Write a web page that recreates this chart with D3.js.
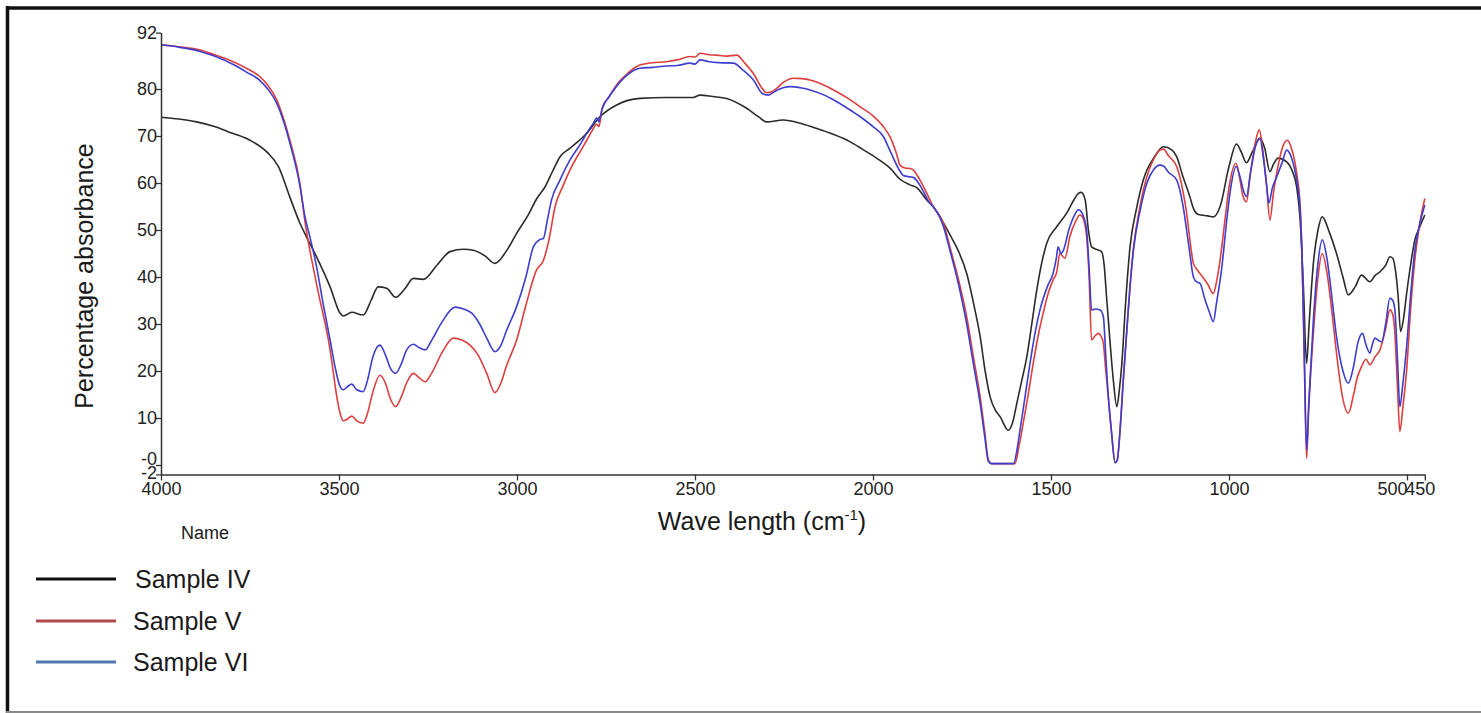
<!DOCTYPE html>
<html>
<head>
<meta charset="utf-8">
<script src="https://cdn.jsdelivr.net/npm/d3@7/dist/d3.min.js"></script>
<style>
  html, body { margin: 0; padding: 0; background: #fff; }
  svg { display: block; font-family: "Liberation Sans", Arial, sans-serif; }
</style>
</head>
<body>
<svg id="chart" width="1481" height="713"></svg>
<script>
// ---------------- DATA ----------------
const xTicks = [4000, 3500, 3000, 2500, 2000, 1500, 1000, 500, 450];
const yTicks = [92, 80, 70, 60, 50, 40, 30, 20, 10, 0, -2];
const seriesNames = ["Sample IV", "Sample V", "Sample VI"];

const waveIV = [4000,3950,3900,3850,3800,3750,3700,3670,3638,3610,3591,3563,3525,3497,3488,3464,3432,3410,3390,3366,3341,3315,3291,3263,3225,3188,3150,3123,3090,3062,3030,3001,2970,2945,2921,2900,2879,2851,2804,2767,2720,2655,2580,2505,2486,2450,2411,2355,2320,2299,2252,2200,2158,2110,2065,2030,1990,1950,1924,1896,1877,1849,1831,1802,1784,1760,1737,1715,1699,1685,1671,1655,1643,1620,1608,1596,1582,1568,1554,1540,1526,1512,1484,1456,1435,1423,1415,1404,1395,1386,1370,1358,1350,1344,1335,1325,1315,1308,1301,1290,1278,1260,1241,1210,1184,1160,1147,1130,1110,1100,1086,1060,1044,1025,1000,979,965,951,935,913,900,885,875,862,838,822,810,800,791,782,775,763,750,738,718,698,680,665,645,628,604,590,576,560,548,540,534,525,518,510,501,490,478,465,450];
const absIV  = [74.0,73.6,73.0,72.0,70.6,69.1,66.4,63.5,57.0,51.5,48.5,44.3,37.9,32.3,31.7,32.5,31.9,35.0,37.9,37.6,35.7,37.5,39.7,39.5,42.5,45.4,45.9,45.7,44.5,42.9,45.5,49.3,53.0,56.6,59.2,62.5,65.6,67.4,70.6,74.1,76.6,78.0,78.2,78.2,78.7,78.4,78.0,75.9,74.0,73.0,73.4,72.6,71.6,70.3,68.8,67.2,65.3,63.0,60.8,59.6,59.0,56.4,55.0,51.5,49.0,45.5,40.8,33.5,27.3,20.0,14.5,11.5,10.3,7.4,9.0,13.1,18.0,23.0,30.0,37.2,43.0,47.2,50.7,53.6,56.5,57.8,58.0,56.4,50.0,46.4,45.8,45.4,42.0,35.8,27.0,18.1,12.4,16.0,21.6,35.0,46.4,54.5,60.6,65.5,67.7,67.0,65.6,61.5,57.1,54.6,53.3,53.0,52.8,55.0,63.5,68.3,66.5,64.3,66.5,69.5,67.5,62.4,64.0,65.3,64.5,62.5,59.2,52.0,37.9,21.6,30.0,42.9,50.0,52.8,49.5,45.0,40.0,36.2,38.0,40.4,39.0,40.3,41.1,42.5,44.3,44.0,42.2,36.0,28.4,31.0,36.5,42.5,47.9,50.5,53.2];

const waveV = [4000,3950,3890,3850,3797,3760,3722,3700,3675,3655,3638,3610,3596,3563,3525,3505,3497,3488,3476,3464,3450,3432,3420,3405,3385,3370,3355,3341,3325,3310,3291,3275,3258,3240,3210,3179,3155,3132,3110,3085,3062,3045,3030,3001,2975,2945,2926,2910,2893,2870,2851,2820,2804,2790,2776,2770,2760,2740,2720,2690,2655,2620,2580,2550,2514,2500,2486,2460,2440,2410,2383,2360,2336,2310,2299,2285,2271,2250,2224,2200,2177,2140,2111,2070,2036,2000,1971,1950,1935,1924,1910,1896,1887,1868,1840,1831,1802,1784,1760,1737,1718,1699,1686,1676,1667,1640,1620,1601,1590,1578,1564,1550,1536,1522,1508,1494,1484,1475,1461,1447,1430,1419,1410,1400,1393,1386,1376,1367,1360,1353,1346,1339,1330,1320,1314,1306,1297,1287,1278,1268,1250,1231,1212,1194,1184,1170,1147,1130,1119,1110,1100,1090,1082,1060,1044,1035,1025,1010,1000,980,970,960,951,940,925,915,905,895,885,875,866,850,836,825,810,800,795,788,782,776,763,750,738,725,710,698,680,665,650,640,628,615,604,590,576,560,548,540,534,527,520,512,501,490,478,465,450];
const absV  = [89.4,89.0,88.3,87.3,85.8,84.4,82.6,80.8,77.7,73.5,69.1,60.0,52.0,38.5,24.5,14.0,11.0,9.4,9.8,10.4,9.4,8.9,11.0,15.5,19.1,17.5,14.0,12.4,14.5,17.5,19.5,18.6,17.7,19.5,24.0,27.0,26.6,25.5,23.5,19.5,15.4,17.5,21.0,26.6,34.0,41.5,43.5,48.0,55.0,59.5,62.8,67.0,69.1,71.0,72.5,72.0,76.0,78.5,80.9,83.3,85.1,85.6,85.8,86.2,86.9,86.8,87.6,87.3,87.2,87.0,87.2,85.5,83.3,80.0,79.2,79.4,80.1,81.5,82.3,82.2,81.9,80.9,79.8,78.0,76.2,74.3,72.0,69.5,66.5,63.8,63.2,63.1,62.8,60.6,56.4,55.0,51.4,46.4,39.5,31.6,23.0,14.5,7.0,1.1,0.3,0.3,0.3,0.3,4.0,8.9,15.0,21.6,27.5,32.3,36.5,39.4,41.0,45.0,44.0,48.6,52.0,53.2,52.5,48.6,40.0,26.6,27.5,28.0,27.5,25.9,20.0,14.5,7.0,0.5,1.0,7.4,18.0,28.7,38.0,46.4,55.0,61.3,65.0,67.0,67.2,65.8,63.5,58.5,53.6,48.0,42.9,41.6,40.8,38.5,36.5,39.0,43.6,53.0,59.0,64.2,61.0,57.0,56.0,62.0,69.0,71.3,67.0,60.0,52.1,58.0,62.1,67.5,69.1,67.5,62.1,55.0,45.0,20.0,1.4,12.0,28.0,40.0,45.0,41.0,32.0,23.8,14.0,11.0,15.0,18.5,20.9,22.5,21.3,23.0,24.5,29.0,33.0,32.0,28.0,17.0,7.1,12.0,20.2,33.0,43.6,51.0,56.7];

const waveVI = [4000,3950,3890,3850,3797,3760,3722,3700,3675,3655,3638,3610,3596,3580,3563,3545,3525,3510,3497,3488,3476,3464,3450,3432,3420,3405,3385,3370,3355,3341,3325,3310,3291,3275,3258,3240,3210,3174,3150,3127,3105,3085,3062,3045,3030,3001,2975,2954,2935,2926,2915,2903,2880,2851,2820,2804,2785,2776,2770,2762,2740,2720,2690,2655,2620,2580,2550,2514,2500,2486,2460,2430,2392,2365,2336,2310,2294,2275,2250,2233,2200,2177,2140,2111,2070,2036,2000,1971,1950,1924,1915,1896,1887,1868,1840,1831,1802,1784,1760,1737,1718,1699,1686,1676,1667,1605,1595,1587,1573,1559,1545,1531,1510,1494,1485,1480,1472,1465,1450,1435,1423,1412,1400,1393,1386,1375,1362,1353,1346,1339,1330,1320,1314,1306,1297,1287,1278,1268,1250,1231,1212,1194,1184,1170,1147,1130,1119,1110,1100,1090,1082,1067,1055,1044,1035,1021,1005,995,980,968,960,951,940,925,913,903,895,888,878,866,850,838,825,810,800,795,788,782,776,763,750,738,725,710,698,680,665,650,638,625,615,604,598,590,580,571,560,548,540,534,527,520,512,501,490,478,465,450];
const absVI  = [89.4,88.9,88.0,87.0,85.2,83.6,81.8,80.0,77.0,73.0,68.5,59.5,53.0,48.0,42.2,34.5,26.6,20.5,16.7,16.0,16.7,17.2,16.0,15.6,18.0,23.0,25.5,23.5,20.5,19.5,21.5,24.5,25.7,25.0,24.5,26.5,30.5,33.6,33.2,32.3,30.0,27.0,24.1,25.5,28.5,33.7,40.0,46.4,48.0,48.2,52.0,56.4,60.5,64.9,68.5,70.6,72.8,73.8,73.0,75.5,78.5,80.6,83.0,84.4,84.6,84.9,85.0,85.5,85.3,86.2,85.8,85.6,85.5,84.0,81.9,79.0,78.7,79.5,80.3,80.5,80.2,79.8,78.8,77.7,75.8,74.1,72.0,69.9,66.5,62.5,61.6,61.3,61.2,59.5,55.7,55.0,50.7,45.7,38.5,30.1,21.5,13.1,6.0,0.8,0.3,0.3,3.5,7.4,14.5,21.6,28.0,33.0,38.0,40.8,44.0,46.4,45.0,45.7,50.0,53.0,54.3,53.5,50.0,42.0,33.0,33.2,33.0,31.6,23.0,14.5,7.0,0.5,1.0,7.4,18.0,28.7,38.0,46.0,54.0,59.9,62.8,63.8,63.6,62.3,60.6,55.5,50.0,45.0,40.0,38.9,38.7,35.1,32.5,30.5,34.5,41.5,53.0,59.0,63.5,61.0,58.5,57.1,62.0,68.0,69.5,65.0,60.0,55.7,59.0,61.3,64.5,67.0,65.5,60.6,54.0,45.0,22.0,3.2,13.0,30.9,43.0,47.9,44.0,35.0,27.3,20.0,17.4,21.0,26.0,28.0,25.5,23.8,25.5,27.0,26.5,26.2,30.0,35.5,35.0,33.0,23.0,12.4,17.0,25.2,36.0,45.7,51.0,55.3];

// ---------------- CHART ----------------
const svg = d3.select("#chart");
const W = 1481, H = 713;
const plot = { left: 161, right: 1424.8, top: 32.6, bottom: 474.4 };

// frame
svg.append("line").attr("x1", 6).attr("x2", W).attr("y1", 8).attr("y2", 8)
  .attr("stroke", "#111").attr("stroke-width", 3.5);
svg.append("line").attr("x1", 7.5).attr("x2", 7.5).attr("y1", 6).attr("y2", H)
  .attr("stroke", "#111").attr("stroke-width", 3.5);
svg.append("line").attr("x1", 6).attr("x2", W).attr("y1", 712).attr("y2", 712)
  .attr("stroke", "#8a8a8a").attr("stroke-width", 2);

const x = d3.scaleLinear().domain([4000, 450]).range([plot.left, plot.right]);
const y = d3.scaleLinear().domain([-2, 92]).range([plot.bottom, plot.top]);

// lines
const line = d3.line()
  .x(d => x(d[0]))
  .y(d => y(d[1]))
  .curve(d3.curveMonotoneX);

const series = [
  { name: seriesNames[0], waves: waveIV, vals: absIV, color: "#2b2b2b", legend: "#111111" },
  { name: seriesNames[1], waves: waveV, vals: absV, color: "#df3e3e", legend: "#b14a4d" },
  { name: seriesNames[2], waves: waveVI, vals: absVI, color: "#3d3dcf", legend: "#5077ad" }
];

const g = svg.append("g");
series.forEach(s => {
  const pts = s.waves.map((w, i) => [w, s.vals[i]]);
  g.append("path")
    .datum(pts)
    .attr("fill", "none")
    .attr("stroke", s.color)
    .attr("stroke-width", 1.6)
    .attr("stroke-linejoin", "round")
    .attr("d", line);
});

// axes
const axisColor = "#333";
const xAxis = d3.axisBottom(x).tickValues(xTicks).tickSize(6).tickSizeOuter(0).tickFormat(d3.format("d"));
const gx = svg.append("g").attr("transform", `translate(0,${plot.bottom})`).call(xAxis);
gx.select(".domain").attr("stroke", axisColor).attr("stroke-width", 1.5);
gx.selectAll(".tick line").attr("stroke", axisColor).attr("stroke-width", 1.3);
gx.selectAll(".tick text")
  .attr("font-size", 18).attr("fill", "#222").attr("font-family", '"Liberation Sans", Arial, sans-serif')
  .attr("dy", "0.65em")
  .attr("text-anchor", d => d === 500 ? "end" : "middle")
  .attr("dx", d => d === 500 ? 0 : (d === 450 ? -5 : 0));

const yAxis = d3.axisLeft(y).tickValues(yTicks).tickSize(5).tickSizeOuter(0)
  .tickFormat(d => d === 0 ? "-0" : String(d));
const gy = svg.append("g").attr("transform", `translate(${plot.left},0)`).call(yAxis);
gy.select(".domain").attr("stroke", axisColor).attr("stroke-width", 1.5);
gy.selectAll(".tick line").attr("stroke", axisColor).attr("stroke-width", 1.3);
gy.selectAll(".tick text")
  .attr("font-size", 18).attr("fill", "#222").attr("font-family", '"Liberation Sans", Arial, sans-serif')
  .attr("x", -4)
  .attr("dy", d => d === 0 ? "-0.05em" : (d === -2 ? "0.2em" : "0.32em"));

// axis titles
svg.append("text")
  .attr("transform", `translate(93,276) rotate(-90)`)
  .attr("text-anchor", "middle")
  .attr("font-size", 25).attr("fill", "#1a1a1a")
  .text("Percentage absorbance");

const xt = svg.append("text")
  .attr("x", 762).attr("y", 530)
  .attr("text-anchor", "middle")
  .attr("font-size", 25).attr("fill", "#1a1a1a");
xt.append("tspan").text("Wave length (cm");
xt.append("tspan").attr("font-size", 15).attr("dy", -10).text("-1");
xt.append("tspan").attr("dy", 10).text(")");

svg.append("text")
  .attr("x", 181).attr("y", 539)
  .attr("font-size", 18).attr("fill", "#1a1a1a")
  .text("Name");

// legend
const legY = [579, 621, 662];
series.forEach((s, i) => {
  svg.append("line")
    .attr("x1", 36).attr("x2", 116).attr("y1", legY[i]).attr("y2", legY[i])
    .attr("stroke", s.legend).attr("stroke-width", 3.2);
  svg.append("text")
    .attr("x", i === 0 ? 135 : 133).attr("y", legY[i] + 9)
    .attr("font-size", 25).attr("fill", "#1a1a1a")
    .text(s.name);
});
</script>
</body>
</html>
